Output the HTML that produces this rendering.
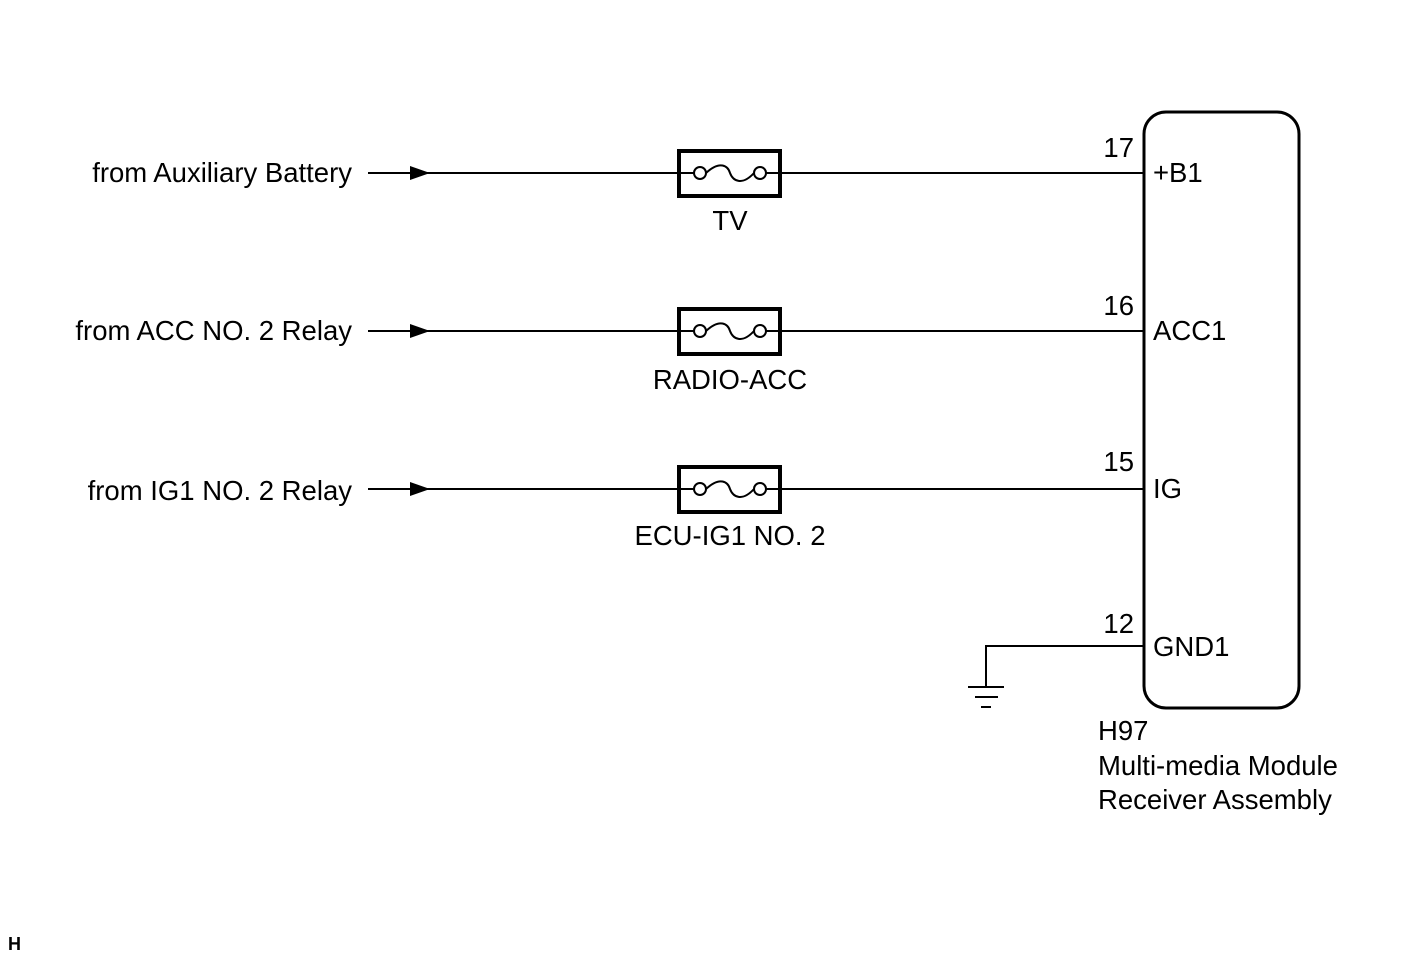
<!DOCTYPE html>
<html><head><style>
body{margin:0;background:#fff;}
svg text{font-family:"Liberation Sans",Arial,sans-serif;font-size:27.5px;fill:#000;}
</style></head><body>
<svg width="1424" height="959" xmlns="http://www.w3.org/2000/svg">
<g stroke="#000" stroke-width="2" fill="none">
<line x1="368" y1="173" x2="1143" y2="173"/>
<line x1="368" y1="331" x2="1143" y2="331"/>
<line x1="368" y1="489" x2="1143" y2="489"/>
<polyline points="1143,646 986,646 986,687"/>
<line x1="968" y1="687" x2="1004" y2="687"/>
<line x1="975" y1="697" x2="998" y2="697"/>
<line x1="981" y1="707" x2="991" y2="707"/>
</g>
<g fill="#000">
<polygon points="410,166 430,173 410,180"/>
<polygon points="410,324 430,331 410,338"/>
<polygon points="410,482 430,489 410,496"/>
</g>
<g stroke="#000" fill="#fff">
<rect x="679" y="151" width="101" height="45" stroke-width="4"/>
<rect x="679" y="309" width="101" height="45" stroke-width="4"/>
<rect x="679" y="467" width="101" height="45" stroke-width="4"/>
</g>
<g stroke="#000" stroke-width="2" fill="none">
<line x1="679" y1="173" x2="694" y2="173"/><line x1="766" y1="173" x2="780" y2="173"/>
<line x1="679" y1="331" x2="694" y2="331"/><line x1="766" y1="331" x2="780" y2="331"/>
<line x1="679" y1="489" x2="694" y2="489"/><line x1="766" y1="489" x2="780" y2="489"/>
<g fill="#fff">
<circle cx="700" cy="173" r="6"/><circle cx="760" cy="173" r="6"/>
<circle cx="700" cy="331" r="6"/><circle cx="760" cy="331" r="6"/>
<circle cx="700" cy="489" r="6"/><circle cx="760" cy="489" r="6"/>
</g>
<path d="M706,173 C720,160 728,166 730,173 C733,181 742,186 754,173"/>
<path d="M706,331 C720,318 728,324 730,331 C733,339 742,344 754,331"/>
<path d="M706,489 C720,476 728,482 730,489 C733,497 742,502 754,489"/>
<rect x="1144" y="112" width="155" height="596" rx="22" stroke-width="3"/>
</g>
<text x="352" y="182" text-anchor="end">from Auxiliary Battery</text>
<text x="352" y="340" text-anchor="end">from ACC NO. 2 Relay</text>
<text x="352" y="500" text-anchor="end">from IG1 NO. 2 Relay</text>
<text x="730" y="230" text-anchor="middle">TV</text>
<text x="730" y="389" text-anchor="middle">RADIO-ACC</text>
<text x="730" y="545" text-anchor="middle">ECU-IG1 NO. 2</text>
<text x="1134" y="157" text-anchor="end">17</text>
<text x="1134" y="315" text-anchor="end">16</text>
<text x="1134" y="471" text-anchor="end">15</text>
<text x="1134" y="633" text-anchor="end">12</text>
<text x="1153" y="182">+B1</text>
<text x="1153" y="340">ACC1</text>
<text x="1153" y="498">IG</text>
<text x="1153" y="656">GND1</text>
<text x="1098" y="740">H97</text>
<text x="1098" y="775">Multi-media Module</text>
<text x="1098" y="809">Receiver Assembly</text>
<text x="8" y="950" style="font-size:18px;font-weight:bold">H</text>
</svg>
</body></html>
